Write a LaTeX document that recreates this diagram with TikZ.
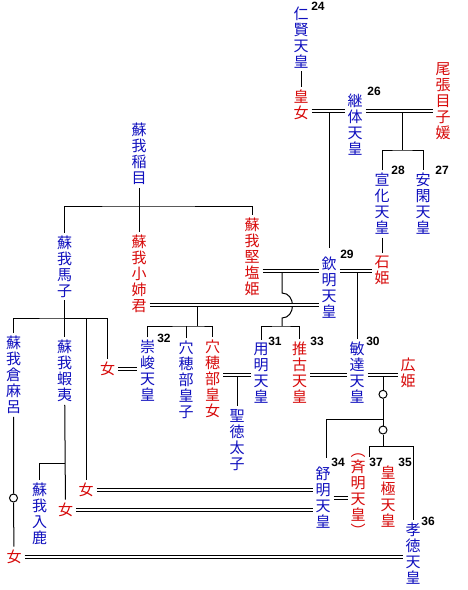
\documentclass[tikz,border=0pt]{standalone}
\usepackage{fontspec}
\newfontfamily\cjk{Noto Sans CJK JP}
\newfontfamily\numfont{Liberation Sans}
\definecolor{kblue}{RGB}{16,16,190}
\definecolor{kred}{RGB}{215,10,10}
\tikzset{
  vt/.style={inner sep=0pt, outer sep=3pt, align=center, font=\cjk\fontsize{15}{16}\selectfont},
  vb/.style={vt, text=kblue},
  vr/.style={vt, text=kred},
  num/.style={inner sep=0pt, font=\numfont\bfseries\fontsize{12}{12}\selectfont},
  ln/.style={line width=1pt},
  dbl/.style={line width=1pt, double=white, double distance=2pt},
  ring/.style={circle, draw, line width=1pt, minimum size=8pt, inner sep=0pt}
}
\begin{document}
\begin{tikzpicture}[x=1pt, y=-1pt]
\useasboundingbox[fill=white] (0,0) rectangle (467,590);

% ---- people
\node[vb] (jinken)   at (301,37.5)  {仁\\賢\\天\\皇};
\node[vr] (koujo)    at (301,105)   {皇\\女};
\node[vb] (keitai)   at (355,124.5) {継\\体\\天\\皇};
\node[vr] (menoko)   at (443,101)   {尾\\張\\目\\子\\媛};
\node[vb] (senka)    at (382,204)   {宣\\化\\天\\皇};
\node[vb] (ankan)    at (423,204)   {安\\閑\\天\\皇};
\node[vr] (ishihime) at (382,270)   {石\\姫};
\node[vb] (kinmei)   at (329,287.5) {欽\\明\\天\\皇};
\node[vr] (kitashi)  at (252,257)   {蘇\\我\\堅\\塩\\姫};
\node[vb] (iname)    at (139,154)   {蘇\\我\\稲\\目};
\node[vb] (umako)    at (64.5,266.5){蘇\\我\\馬\\子};
\node[vr] (oane)     at (139,274)   {蘇\\我\\小\\姉\\君};
\node[vb] (sushun)   at (147.5,371) {崇\\峻\\天\\皇};
\node[vb] (anaM)     at (186,380)   {穴\\穂\\部\\皇\\子};
\node[vr] (anaF)     at (212.5,379) {穴\\穂\\部\\皇\\女};
\node[vb] (shotoku)  at (237,440)   {聖\\徳\\太\\子};
\node[vb] (yomei)    at (261,373)   {用\\明\\天\\皇};
\node[vr] (suiko)    at (299.5,373) {推\\古\\天\\皇};
\node[vb] (bidatsu)  at (357,372.5) {敏\\達\\天\\皇};
\node[vr] (hirohime) at (408,372.5) {広\\姫};
\node[vb] (kuramaro) at (13.5,375)  {蘇\\我\\倉\\麻\\呂};
\node[vb] (emishi)   at (64.5,371)  {蘇\\我\\蝦\\夷};
\node[vr] (joA)      at (107.5,368.5) {女};
\node[vr] (joB)      at (86,490)    {女};
\node[vr] (joC)      at (65.5,509.5){女};
\node[vb] (iruka)    at (39.5,513.5){蘇\\我\\入\\鹿};
\node[vr] (joD)      at (14,556.5)  {女};
\node[vb] (jomei)    at (323,497.5) {舒\\明\\天\\皇};
\node[vr] (saimei)   at (358,495)   {︵\\斉\\明\\天\\皇\\︶};
\node[vr] (kogyoku)  at (388,497)   {皇\\極\\天\\皇};
\node[vb] (kotoku)   at (413,554)   {孝\\徳\\天\\皇};

% ---- reign numbers
\node[num] (n24) at (318,6.5)   {24};
\node[num] (n26) at (374,91.5)  {26};
\node[num] (n28) at (398,170.5) {28};
\node[num] (n27) at (442,170.5) {27};
\node[num] (n29) at (347,254.5) {29};
\node[num] (n32) at (164,338.5) {32};
\node[num] (n31) at (275,341)   {31};
\node[num] (n33) at (317,341)   {33};
\node[num] (n30) at (373,341.5) {30};
\node[num] (n34) at (338,462.5) {34};
\node[num] (n37) at (376,462.5) {37};
\node[num] (n35) at (405,462.5) {35};
\node[num] (n36) at (428,521.5) {36};

% ---- junction points
\coordinate (m1) at (329,111);
\coordinate (m2) at (402,111);
\coordinate (c2) at (402,150);
\coordinate (c5) at (139,206);
\coordinate (m3) at (282,271);
\coordinate (hopA) at (282,293);
\coordinate (hopB) at (282,318);
\coordinate (c6) at (282,326);
\coordinate (m4) at (357,271);
\coordinate (m5) at (197,305);
\coordinate (c8) at (197,326);
\coordinate (c9) at (64.5,318);
\coordinate (c11) at (64.5,463);
\coordinate (m6) at (237,375);
\coordinate (m7) at (383,375);
\coordinate (c13a) at (383,419.3);
\coordinate (c13) at (383,446);
\coordinate (jt) at (326,458);
\coordinate (kt) at (369,457);
\node[ring] (k1) at (13.5,498) {};
\node[ring] (k2) at (383,394.3) {};
\node[ring] (k3) at (383,430) {};

% ---- single lines
\draw[ln] (jinken) -- (koujo);
\draw[ln, shorten >=6pt] (m1) -- (kinmei.north);
\draw[ln] (m2) -- (c2);
\draw[ln] (senka.north) |- (c2) -| (ankan.north);
\draw[ln] (senka) -- (ishihime);
\draw[ln] (iname) -- (oane);
\draw[ln] (umako.north) |- (c5) -| (kitashi.north);
\draw[ln] (m3) -- (hopA) .. controls (296,293) and (296,318) .. (hopB) -- (c6);
\draw[ln] (yomei.north) |- (c6) -| (suiko.north);
\draw[ln] (m4) -- (bidatsu.north);
\draw[ln] (m5) -- (c8);
\draw[ln] (sushun.north) |- (c8) -| (anaF.north);
\draw[ln] (anaM.north) -- (anaM.north |- c8);
\draw[ln] (umako) -- (emishi);
\draw[ln] (kuramaro.north) |- (c9) -| (joA.north);
\draw[ln] (c9) -| (joB.north);
\draw[ln] (kuramaro) -- (k1) -- (joD);
\draw[ln] (emishi) -- (joC);
\draw[ln] (c11) -| (iruka.north);
\draw[ln] (m6) -- (shotoku.north);
\draw[ln] (m7) -- (k2) -- (k3) -- (c13);
\draw[ln] (c13a) -| (jt);
\draw[ln] (c13) -| (kt);
\draw[ln] (c13) -| (kotoku.north);

% ---- marriages (double lines)
\draw[dbl] (koujo.east |- m1) -- (keitai.west |- m1);
\draw[dbl] (keitai.east |- m2) -- (menoko.west |- m2);
\draw[dbl] (kitashi.east |- m3) -- (kinmei.west |- m3);
\draw[dbl] (kinmei.east |- m4) -- (ishihime.west |- m4);
\draw[dbl] (oane.east |- m5) -- (kinmei.west |- m5);
\draw[dbl] (joA.east) -- (sushun.west |- joA.east);
\draw[dbl] (anaF.east |- m6) -- (yomei.west |- m6);
\draw[dbl] (suiko.east |- m7) -- (bidatsu.west |- m7);
\draw[dbl] (bidatsu.east |- m7) -- (hirohime.west |- m7);
\draw[dbl] (joB.east) -- (jomei.west |- joB.east);
\draw[dbl] (joC.east) -- (jomei.west |- joC.east);
\draw[dbl] (jomei.east |- 0,498) -- (saimei.west |- 0,498);
\draw[dbl] (joD.east) -- (kotoku.west |- joD.east);
\end{tikzpicture}
\end{document}
